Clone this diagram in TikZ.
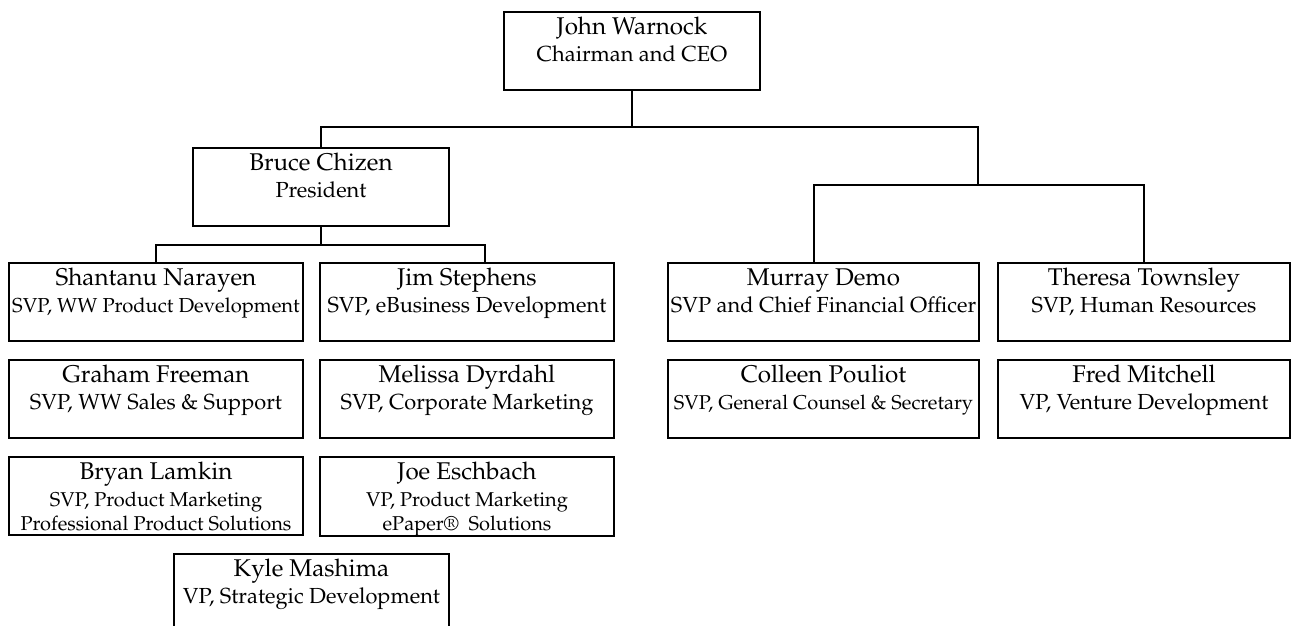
\documentclass[tikz,border=0pt]{standalone}
\usepackage[T1]{fontenc}
\usepackage{mathpazo}
\usetikzlibrary{positioning, calc}

% one box of the chart: [title size] name, title, extra line
\newcommand{\who}[4][10.9]{{\fontsize{12.1}{13}\selectfont\rule{0pt}{11pt}#2}\\[1.5pt]
  {\fontsize{#1}{12}\selectfont #3}\\ \rule[-2pt]{0pt}{2pt}#4}

\begin{document}
\begin{tikzpicture}[x=0.5pt, y=-0.5pt,
    person/.style={draw, line width=1pt, align=center, inner sep=0pt,
                   anchor=north west, minimum height=39pt,
                   font=\fontsize{10}{12}\selectfont},
    wire/.style={line width=1pt}]
  \useasboundingbox (0,0) rectangle (1292,626);

  % top and second level
  \node[person, minimum width=128pt] (john) at (503,11)
    {\who{John Warnock}{Chairman and CEO}{}};
  \node[person, minimum width=128pt] (bruce) at (192,147)
    {\who{Bruce Chizen}{President}{}};

  % reports of the president
  \node[person, minimum width=147pt] (shantanu) at (8,262)
    {\who[10.1]{Shantanu Narayen}{SVP, WW Product Development}{}};
  \node[person, minimum width=147pt] (jim) at (319,262)
    {\who{Jim Stephens}{SVP, eBusiness Development}{}};
  \node[person, minimum width=147pt] (graham) at (8,359)
    {\who{Graham Freeman}{SVP, WW Sales \& Support}{}};
  \node[person, minimum width=147pt] (melissa) at (319,359)
    {\who{Melissa Dyrdahl}{SVP, Corporate Marketing}{}};
  \node[person, minimum width=147pt] (bryan) at (8,456)
    {\who[10]{Bryan Lamkin}{SVP, Product Marketing}{Professional Product Solutions}};
  \node[person, minimum width=147pt] (joe) at (319,456)
    {\who[10]{Joe Eschbach}{VP, Product Marketing}{ePaper\textregistered\ \ Solutions}};
  \node[person, minimum width=137.5pt] (kyle) at (173,553)
    {\who{Kyle Mashima}{VP, Strategic Development}{}};

  % reports of the CEO
  \node[person, minimum width=155.5pt] (murray) at (667,262)
    {\who{Murray Demo}{SVP and Chief Financial Officer}{}};
  \node[person, minimum width=146pt] (theresa) at (997,262)
    {\who{Theresa Townsley}{SVP, Human Resources}{}};
  \node[person, minimum width=155.5pt] (colleen) at (667,359)
    {\who[10]{Colleen Pouliot}{SVP, General Counsel \& Secretary}{}};
  \node[person, minimum width=146pt] (fred) at (997,359)
    {\who{Fred Mitchell}{VP, Venture Development}{}};

  % connectors
  \coordinate (barA) at (0,127);
  \coordinate (barB) at (0,185);
  \coordinate (barC) at (0,245);
  \coordinate (splitR) at (978,127);
  \draw[wire] (john.south) -- (john.south |- barA);
  \draw[wire] (bruce.north) |- (splitR) -- (splitR |- barB);
  \draw[wire] ([xshift=-4.75pt]murray.north) |- (theresa.north |- barB)
    -- (theresa.north);
  \draw[wire] (bruce.south) -- (bruce.south |- barC);
  \draw[wire] (shantanu.north) |- ([xshift=9pt]jim.north |- barC)
    -- ([xshift=9pt]jim.north);
\end{tikzpicture}
\end{document}
